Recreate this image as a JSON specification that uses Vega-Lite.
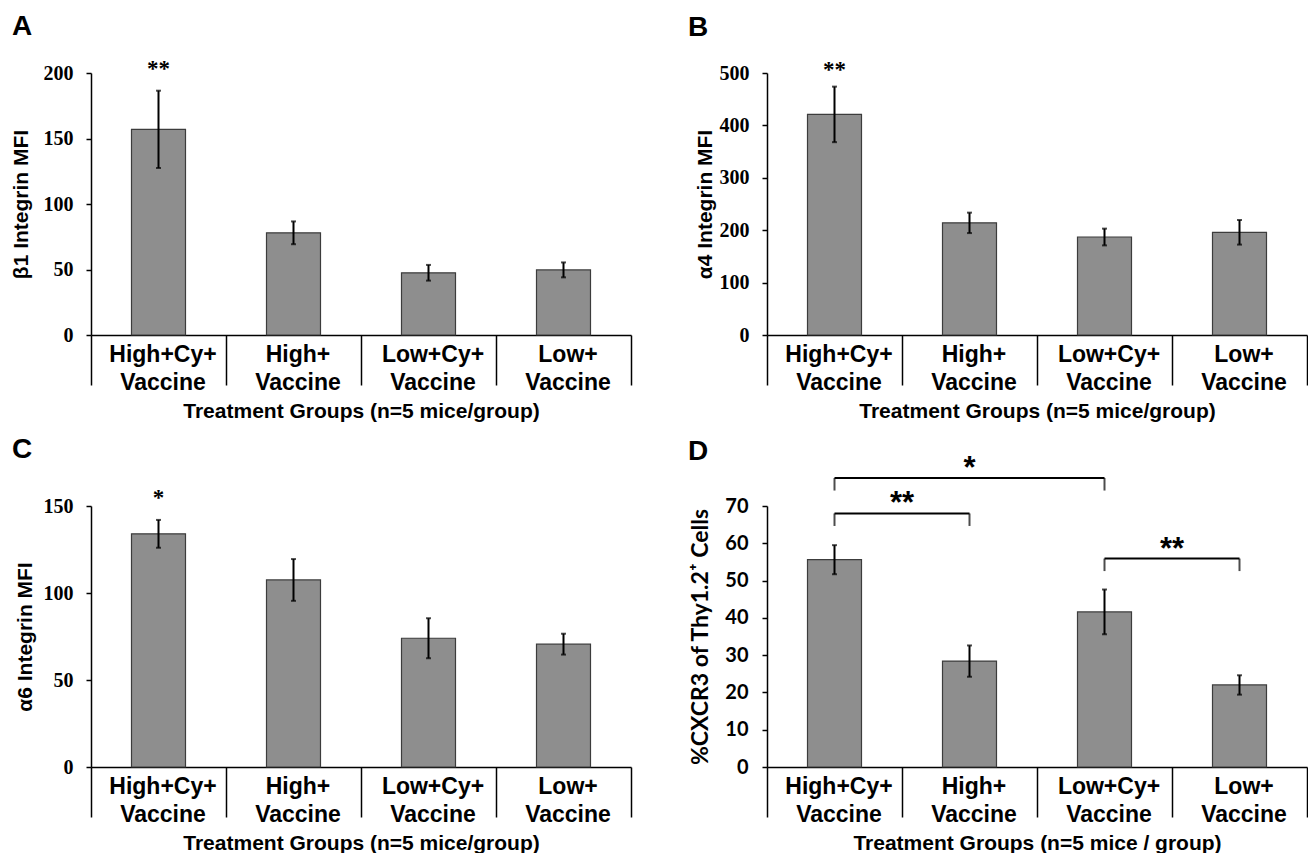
{
  "$schema": "https://vega.github.io/schema/vega-lite/v6.json",
  "background": "white",
  "padding": {"left": 10, "top": 13, "right": 0, "bottom": 0},
  "columns": 2,
  "bounds": "flush",
  "spacing": {"row": 171, "column": 136},
  "config": {
    "view": {"stroke": null},
    "axisX": {
      "labelAngle": 0,
      "labelExpr": "datum.value == 'High+Cy+ Vaccine' ? ['High+Cy+', 'Vaccine\u00a0\u00a0\u00a0'] : datum.value == 'High+ Vaccine' ? ['High+\u00a0\u00a0\u00a0\u00a0', 'Vaccine'] : datum.value == 'Low+Cy+ Vaccine' ? ['Low+Cy+', 'Vaccine\u00a0\u00a0'] : datum.value == 'Low+ Vaccine' ? ['Low+\u00a0\u00a0\u00a0\u00a0', 'Vaccine'] : ''",
      "labelFont": "Liberation Sans",
      "labelFontWeight": "bold",
      "labelFontSize": 23,
      "labelLineHeight": 28,
      "labelColor": "black",
      "labelOverlap": false,
      "labelLimit": 300,
      "labelPadding": -42,
      "labelOffset": 4,
      "tickBand": "extent",
      "tickSize": 50,
      "tickColor": "black",
      "tickWidth": 1.5,
      "domainColor": "black",
      "domainWidth": 1.5,
      "titleFont": "Liberation Sans",
      "titleFontSize": 21,
      "titleFontWeight": "bold",
      "titleColor": "black",
      "titlePadding": 6
    },
    "axisY": {
      "grid": false,
      "labelFont": "Liberation Serif",
      "labelFontWeight": "bold",
      "labelFontSize": 20,
      "labelColor": "black",
      "labelPadding": 13,
      "tickSize": 5,
      "tickColor": "black",
      "tickWidth": 1.5,
      "domainColor": "black",
      "domainWidth": 1.5,
      "titleFont": "Liberation Sans",
      "titleFontSize": 21,
      "titleFontWeight": "bold",
      "titleColor": "black",
      "titlePadding": 12
    },
    "title": {"font": "Liberation Sans", "fontSize": 28, "fontWeight": "bold", "color": "black", "anchor": "start", "frame": "group", "dx": -79}
  },
  "concat": [
    {
      "width": 540,
      "height": 262,
      "title": {"text": "A", "offset": 17},
      "data": {"values": [
        {"group": "High+Cy+ Vaccine", "mfi": 157, "err": 29.5, "sig": "**"},
        {"group": "High+ Vaccine", "mfi": 78, "err": 8.7},
        {"group": "Low+Cy+ Vaccine", "mfi": 47.5, "err": 6},
        {"group": "Low+ Vaccine", "mfi": 49.7, "err": 5.7}
      ]},
      "encoding": {
        "x": {"field": "group", "type": "nominal", "sort": null, "scale": {"paddingInner": 0, "paddingOuter": 0}, "axis": {"title": "Treatment Groups (n=5 mice/group)"}},
        "y": {"field": "mfi", "type": "quantitative", "scale": {"domain": [0, 200], "nice": false}, "axis": {"title": "β1 Integrin MFI", "values": [0, 50, 100, 150, 200]}}
      },
      "layer": [
        {"mark": {"type": "bar", "width": {"band": 0.4}, "fill": "#8e8e8e", "stroke": "#3c3c3c", "strokeWidth": 1.2}},
        {"mark": {"type": "errorbar", "color": "black", "ticks": {"size": 5, "thickness": 2, "color": "black"}, "rule": {"strokeWidth": 2, "color": "black"}}, "encoding": {"yError": {"field": "err"}}},
        {"transform": [{"filter": "datum.sig != null"}], "mark": {"type": "text", "dy": -53, "font": "Liberation Serif", "fontWeight": "bold", "fontSize": 23, "baseline": "alphabetic", "color": "black"}, "encoding": {"text": {"field": "sig"}}}
      ]
    },
    {
      "width": 540,
      "height": 262,
      "title": {"text": "B", "offset": 17},
      "data": {"values": [
        {"group": "High+Cy+ Vaccine", "mfi": 421, "err": 53, "sig": "**"},
        {"group": "High+ Vaccine", "mfi": 214, "err": 19.5},
        {"group": "Low+Cy+ Vaccine", "mfi": 187, "err": 16},
        {"group": "Low+ Vaccine", "mfi": 196, "err": 23.5}
      ]},
      "encoding": {
        "x": {"field": "group", "type": "nominal", "sort": null, "scale": {"paddingInner": 0, "paddingOuter": 0}, "axis": {"title": "Treatment Groups (n=5 mice/group)"}},
        "y": {"field": "mfi", "type": "quantitative", "scale": {"domain": [0, 500], "nice": false}, "axis": {"title": "α4 Integrin MFI", "values": [0, 100, 200, 300, 400, 500], "titlePadding": 4}}
      },
      "layer": [
        {"mark": {"type": "bar", "width": {"band": 0.4}, "fill": "#8e8e8e", "stroke": "#3c3c3c", "strokeWidth": 1.2}},
        {"mark": {"type": "errorbar", "color": "black", "ticks": {"size": 5, "thickness": 2, "color": "black"}, "rule": {"strokeWidth": 2, "color": "black"}}, "encoding": {"yError": {"field": "err"}}},
        {"transform": [{"filter": "datum.sig != null"}], "mark": {"type": "text", "dy": -37, "font": "Liberation Serif", "fontWeight": "bold", "fontSize": 23, "baseline": "alphabetic", "color": "black"}, "encoding": {"text": {"field": "sig"}}}
      ]
    },
    {
      "width": 540,
      "height": 261,
      "title": {"text": "C", "offset": 23},
      "data": {"values": [
        {"group": "High+Cy+ Vaccine", "mfi": 134, "err": 8, "sig": "*"},
        {"group": "High+ Vaccine", "mfi": 107.5, "err": 12},
        {"group": "Low+Cy+ Vaccine", "mfi": 74, "err": 11.5},
        {"group": "Low+ Vaccine", "mfi": 70.6, "err": 6}
      ]},
      "encoding": {
        "x": {"field": "group", "type": "nominal", "sort": null, "scale": {"paddingInner": 0, "paddingOuter": 0}, "axis": {"title": "Treatment Groups (n=5 mice/group)"}},
        "y": {"field": "mfi", "type": "quantitative", "scale": {"domain": [0, 150], "nice": false}, "axis": {"title": "α6 Integrin MFI", "values": [0, 50, 100, 150], "titlePadding": 8}}
      },
      "layer": [
        {"mark": {"type": "bar", "width": {"band": 0.4}, "fill": "#8e8e8e", "stroke": "#3c3c3c", "strokeWidth": 1.2}},
        {"mark": {"type": "errorbar", "color": "black", "ticks": {"size": 5, "thickness": 2, "color": "black"}, "rule": {"strokeWidth": 2, "color": "black"}}, "encoding": {"yError": {"field": "err"}}},
        {"transform": [{"filter": "datum.sig != null"}], "mark": {"type": "text", "dy": -29, "font": "Liberation Serif", "fontWeight": "bold", "fontSize": 23, "baseline": "alphabetic", "color": "black"}, "encoding": {"text": {"field": "sig"}}}
      ]
    },
    {
      "width": 540,
      "height": 261,
      "title": {"text": "D", "offset": -13},
      "data": {"values": [
        {"group": "High+Cy+ Vaccine", "pct": 55.6, "err": 3.9},
        {"group": "High+ Vaccine", "pct": 28.4, "err": 4.2},
        {"group": "Low+Cy+ Vaccine", "pct": 41.6, "err": 6},
        {"group": "Low+ Vaccine", "pct": 22, "err": 2.6}
      ]},
      "encoding": {
        "x": {"field": "group", "type": "nominal", "sort": null, "scale": {"domain": ["High+Cy+ Vaccine", "High+ Vaccine", "Low+Cy+ Vaccine", "Low+ Vaccine"], "paddingInner": 0, "paddingOuter": 0}, "title": "Treatment Groups (n=5 mice / group)"},
        "y": {"field": "pct", "type": "quantitative", "scale": {"domain": [0, 70], "nice": false}, "title": "%CXCR3 of Thy1.2⁺ Cells", "axis": {"values": [0, 10, 20, 30, 40, 50, 60, 70], "labelFont": "Lato", "labelFontSize": 20, "labelPadding": 14, "titleFont": "Lato", "titleFontSize": 23, "titlePadding": 12}}
      },
      "layer": [
        {"mark": {"type": "bar", "width": {"band": 0.4}, "fill": "#8e8e8e", "stroke": "#3c3c3c", "strokeWidth": 1.2}},
        {"mark": {"type": "errorbar", "color": "black", "ticks": {"size": 5, "thickness": 2, "color": "black"}, "rule": {"strokeWidth": 2, "color": "black"}}, "encoding": {"yError": {"field": "err"}}},
        {
          "data": {"values": [
            {"from": "High+Cy+ Vaccine", "to": "Low+Cy+ Vaccine", "level": 77.5, "sig": "*"},
            {"from": "High+Cy+ Vaccine", "to": "High+ Vaccine", "level": 68, "sig": "**"},
            {"from": "Low+Cy+ Vaccine", "to": "Low+ Vaccine", "level": 55.9, "sig": "**"}
          ]},
          "mark": {"type": "rule", "color": "black", "strokeWidth": 2},
          "encoding": {"x": {"field": "from", "type": "nominal", "title": "Treatment Groups (n=5 mice / group)"}, "x2": {"field": "to"}, "y": {"field": "level", "type": "quantitative", "title": "%CXCR3 of Thy1.2⁺ Cells"}}
        },
        {
          "data": {"values": [
            {"from": "High+Cy+ Vaccine", "to": "Low+Cy+ Vaccine", "level": 77.5, "sig": "*"},
            {"from": "High+Cy+ Vaccine", "to": "High+ Vaccine", "level": 68, "sig": "**"},
            {"from": "Low+Cy+ Vaccine", "to": "Low+ Vaccine", "level": 55.9, "sig": "**"}
          ]},
          "mark": {"type": "tick", "orient": "vertical", "color": "black", "thickness": 2, "size": 12.5, "yOffset": 6.25},
          "encoding": {"x": {"field": "from", "type": "nominal", "title": "Treatment Groups (n=5 mice / group)"}, "y": {"field": "level", "type": "quantitative", "title": "%CXCR3 of Thy1.2⁺ Cells"}}
        },
        {
          "data": {"values": [
            {"from": "High+Cy+ Vaccine", "to": "Low+Cy+ Vaccine", "level": 77.5, "sig": "*"},
            {"from": "High+Cy+ Vaccine", "to": "High+ Vaccine", "level": 68, "sig": "**"},
            {"from": "Low+Cy+ Vaccine", "to": "Low+ Vaccine", "level": 55.9, "sig": "**"}
          ]},
          "mark": {"type": "tick", "orient": "vertical", "color": "black", "thickness": 2, "size": 12.5, "yOffset": 6.25},
          "encoding": {"x": {"field": "to", "type": "nominal", "title": "Treatment Groups (n=5 mice / group)"}, "y": {"field": "level", "type": "quantitative", "title": "%CXCR3 of Thy1.2⁺ Cells"}}
        },
        {
          "data": {"values": [
            {"from": "High+Cy+ Vaccine", "level": 68, "sig": "**"},
            {"from": "Low+Cy+ Vaccine", "level": 55.9, "sig": "**"}
          ]},
          "mark": {"type": "text", "font": "Liberation Sans", "fontWeight": "bold", "fontSize": 31, "baseline": "alphabetic", "color": "black"},
          "encoding": {"x": {"field": "from", "type": "nominal", "bandPosition": 1, "title": "Treatment Groups (n=5 mice / group)"}, "y": {"field": "level", "type": "quantitative", "title": "%CXCR3 of Thy1.2⁺ Cells"}, "text": {"field": "sig"}}
        },
        {
          "data": {"values": [
            {"from": "High+Cy+ Vaccine", "mid": "High+ Vaccine", "level": 77.5, "sig": "*"}
          ]},
          "mark": {"type": "text", "font": "Liberation Sans", "fontWeight": "bold", "fontSize": 31, "baseline": "alphabetic", "color": "black"},
          "encoding": {"x": {"field": "mid", "type": "nominal", "title": "Treatment Groups (n=5 mice / group)"}, "y": {"field": "level", "type": "quantitative", "title": "%CXCR3 of Thy1.2⁺ Cells"}, "text": {"field": "sig"}}
        }
      ]
    }
  ]
}
